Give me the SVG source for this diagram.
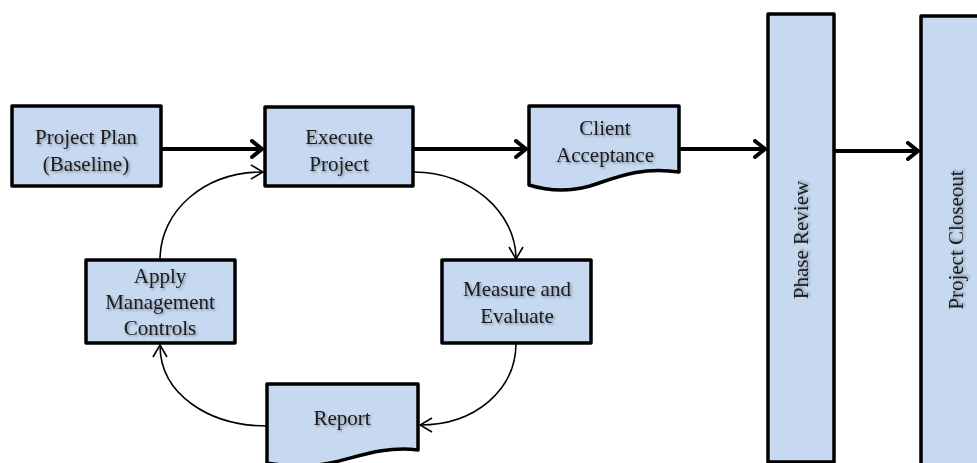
<svg xmlns="http://www.w3.org/2000/svg" width="977" height="463" viewBox="0 0 977 463">
<defs>
<style>
.box{fill:#c6d9f1;stroke:#000;stroke-width:3.5;stroke-linejoin:round}
.t{font-family:"Liberation Serif","Times New Roman",serif;font-size:21px;fill:#1a1a1a;text-anchor:middle;filter:url(#sh)}
.thick{fill:none;stroke:#000;stroke-width:4}
.thin{fill:none;stroke:#000;stroke-width:1.6}
</style>
<filter id="sh" x="-10%" y="-30%" width="130%" height="160%">
<feDropShadow dx="1.5" dy="1.5" stdDeviation="1" flood-color="#000" flood-opacity="0.35"/>
</filter>
<marker id="ah" viewBox="0 0 14 20" refX="13" refY="10" markerWidth="14" markerHeight="20" markerUnits="userSpaceOnUse" orient="auto">
<polyline points="2,2 12,10 2,18" fill="none" stroke="#000" stroke-width="4" stroke-linecap="round" stroke-linejoin="round"/>
</marker>
<marker id="ao" viewBox="0 0 14 16" refX="13" refY="8" markerWidth="14" markerHeight="16" markerUnits="userSpaceOnUse" orient="auto">
<polyline points="1,1 13,8 1,15" fill="none" stroke="#000" stroke-width="1.6"/>
</marker>
</defs>
<rect width="977" height="463" fill="#fff"/>
<g id="connectors">
<line class="thick" x1="161" y1="149" x2="263" y2="149" marker-end="url(#ah)"/>
<line class="thick" x1="413" y1="149" x2="527" y2="149" marker-end="url(#ah)"/>
<line class="thick" x1="679" y1="149" x2="766" y2="149" marker-end="url(#ah)"/>
<line class="thick" x1="834" y1="151" x2="919" y2="151" marker-end="url(#ah)"/>
<path class="thin" d="M160,260 C160,210 205,172 263,172" marker-end="url(#ao)"/>
<path class="thin" d="M414,172 C470,172 516,212 516,259" marker-end="url(#ao)"/>
<path class="thin" d="M516,343 C516,390 475,425 420,425" marker-end="url(#ao)"/>
<path class="thin" d="M267,426 C210,426 160,395 160,345" marker-end="url(#ao)"/>
</g>
<g id="project-plan">
<rect class="box" x="12" y="106" width="149" height="80"/>
<text class="t" x="86" y="144">Project Plan</text>
<text class="t" x="86" y="171">(Baseline)</text>
</g>
<g id="execute-project">
<rect class="box" x="265" y="107" width="148" height="79"/>
<text class="t" x="339" y="144">Execute</text>
<text class="t" x="339" y="171">Project</text>
</g>
<g id="client-acceptance">
<path class="box" d="M529,106 H679 V172 C640,166 615,178 590,186 C565,193 545,190 529,185 Z"/>
<text class="t" x="605" y="135">Client</text>
<text class="t" x="605" y="162">Acceptance</text>
</g>
<g id="phase-review">
<rect class="box" x="768" y="14" width="66" height="448"/>
<text class="t" transform="translate(808,240) rotate(-90)">Phase Review</text>
</g>
<g id="project-closeout">
<rect class="box" x="921" y="16" width="70" height="460"/>
<text class="t" transform="translate(963,240) rotate(-90)">Project Closeout</text>
</g>
<g id="apply-management-controls">
<rect class="box" x="86" y="260" width="149" height="83"/>
<text class="t" x="160" y="283">Apply</text>
<text class="t" x="160" y="309">Management</text>
<text class="t" x="160" y="335">Controls</text>
</g>
<g id="measure-and-evaluate">
<rect class="box" x="442" y="260" width="149" height="83"/>
<text class="t" x="517" y="296">Measure and</text>
<text class="t" x="517" y="323">Evaluate</text>
</g>
<g id="report">
<path class="box" d="M267,384 H418 V450 C385,446 360,456 335,462 C310,468 285,466 267,463 Z"/>
<text class="t" x="342" y="425">Report</text>
</g>
</svg>
